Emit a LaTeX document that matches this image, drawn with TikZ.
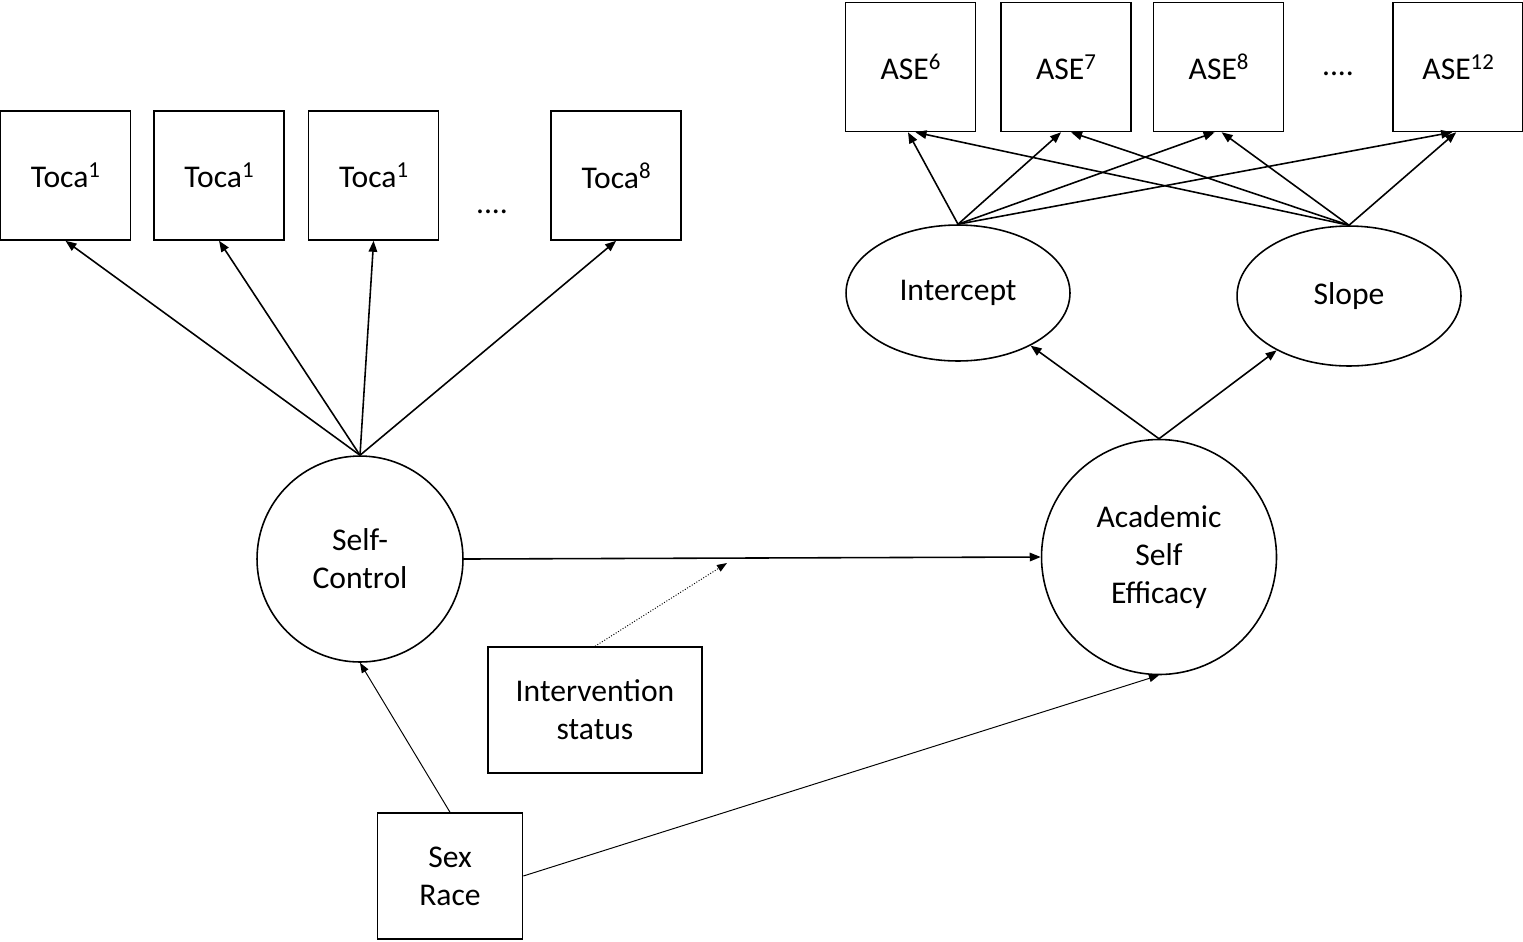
\documentclass[tikz,border=0pt]{standalone}
\usepackage{fontspec}
\setmainfont{Carlito}
\usetikzlibrary{positioning,shapes.geometric,arrows.meta}
\newcommand{\supnum}[1]{\raisebox{0.32em}{\fontsize{13}{13}\selectfont #1}}

\begin{document}
\begin{tikzpicture}[x=0.02cm,y=-0.02cm,node distance=0.5cm,>={Triangle[length=0.22cm,width=0.17cm]},line width=0.9pt]
	\tikzstyle{box}=[rectangle,draw,minimum width=2.6cm,minimum height=2.58cm,inner sep=0pt,align=center,font=\fontsize{18}{21.6}\selectfont]
	\tikzstyle{latent}=[circle,draw,inner sep=0pt,align=center,font=\fontsize{18}{21.6}\selectfont]
	\tikzstyle{growth}=[ellipse,draw,inner sep=0pt,minimum width=4.48cm,font=\fontsize{18}{21.6}\selectfont]
	\tikzstyle{thin}=[line width=0.55pt,>={Triangle[length=0.2cm,width=0.15cm]}]
	\useasboundingbox (0,0) rectangle (1523,941);
		\node[box] (toca1) at (65.5,175.5) {Toca\supnum{1}};
		\node[box, right=0.44cm of toca1] (toca2) {Toca\supnum{1}};
		\node[box, right=0.46cm of toca2] (toca3) {Toca\supnum{1}};
		\node[box, right=2.22cm of toca3] (toca8) {Toca\supnum{8}};
		\node[font=\fontsize{18}{21.6}\selectfont] (tdots) at (492,212) {....};
		\node[latent, minimum size=4.12cm] (sc) at (360,559) {Self-\\Control};
			\draw[->] (sc.north) -- (toca1.south);
			\draw[->] (sc.north) -- (toca2.south);
			\draw[->] (sc.north) -- (toca3.south);
			\draw[->] (sc.north) -- (toca8.south);
		\node[box] (ase6) at (910.5,67) {ASE\supnum{6}};
		\node[box, right=0.48cm of ase6] (ase7) {ASE\supnum{7}};
		\node[box, right=0.42cm of ase7] (ase8) {ASE\supnum{8}};
		\node[box, right=2.16cm of ase8] (ase12) {ASE\supnum{12}};
		\node[font=\fontsize{18}{21.6}\selectfont] (adots) at (1338,74) {....};
		\node[growth, minimum height=2.72cm] (icept) at (958,293) {Intercept};
		\node[growth, minimum height=2.8cm] (slope) at (1349,296) {Slope};
			\draw[->] (icept.north) -- ([xshift=-0.05cm]ase6.south);
			\draw[->] (icept.north) -- ([xshift=-0.1cm]ase7.south);
			\draw[->] (icept.north) -- ([xshift=-0.08cm]ase8.south);
			\draw[->] (icept.north) -- ([xshift=-0.12cm]ase12.south);
			\draw[->] (slope.north) -- ([xshift=0.1cm]ase6.south);
			\draw[->] (slope.north) -- ([xshift=0.1cm]ase7.south);
			\draw[->] (slope.north) -- ([xshift=0.06cm]ase8.south);
			\draw[->] (slope.north) -- ([xshift=-0.04cm]ase12.south);
		\node[latent, minimum size=4.7cm] (ase) at (1159,557) {Academic\\Self\\Efficacy};
			\draw[->] (ase.north) -- (icept);
			\draw[->] (ase.north) -- (slope);
			\draw[->] (sc.east) -- (ase.west);
		\node[box, minimum width=4.28cm, minimum height=2.52cm] (interv) at (595,710) {Intervention\\status};
		\coordinate (mod) at (727,563);
			\draw[->, thin, densely dotted] (interv.north) -- (mod);
		\node[box, minimum width=2.9cm, minimum height=2.52cm] (sexrace) at (450,876) {Sex\\Race};
			\draw[->, thin] (sexrace.north) -- (sc.south);
			\draw[->, thin] (sexrace.east) -- (ase.south);
\end{tikzpicture}
\end{document}
